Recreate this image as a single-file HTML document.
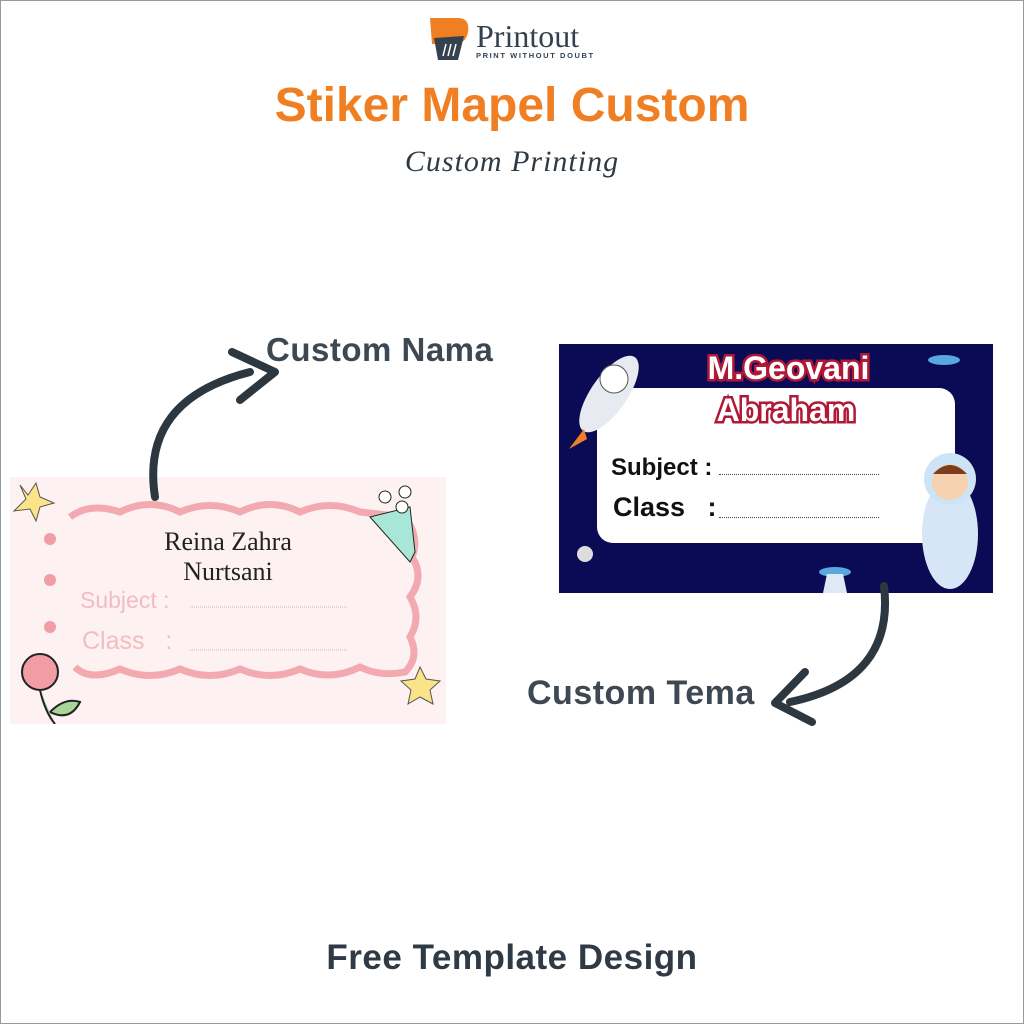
<!DOCTYPE html>
<html><head><meta charset="utf-8"><style>
body{margin:0;width:1024px;height:1024px;background:#fff;position:relative;overflow:hidden;font-family:"Liberation Sans",sans-serif}
.abs{position:absolute}
.ol{color:#fff;-webkit-text-stroke:5px #b01835;paint-order:stroke fill;font-weight:900}
</style></head><body>
<div class="abs" style="left:0;top:0;width:1022px;height:1022px;border:1px solid #9a9a9a"></div>
<!-- logo -->
<svg class="abs" style="left:424px;top:16px" width="48" height="48" viewBox="0 0 48 48">
<path d="M6 2 L34 2 Q46 2 44 16 Q42 28 30 28 L8 28 Z" fill="#f07f24"/>
<path d="M10 22 L40 20 L34 44 L14 44 Z" fill="#34424f"/>
<path d="M22 28 L19 40 M27 28 L24 40 M32 28 L29 40" stroke="#fff" stroke-width="1.5"/>
</svg>
<div class="abs" style="left:476px;top:18px;font-family:'Liberation Serif',serif;font-size:32px;color:#34424f;line-height:36px">Printout</div>
<div class="abs" style="left:476px;top:51px;font-size:7.5px;letter-spacing:1.6px;color:#34424f;font-weight:bold">PRINT WITHOUT DOUBT</div>
<div class="abs" style="left:0;width:1024px;top:78px;text-align:center;font-size:48px;font-weight:bold;color:#f07f24">Stiker Mapel Custom</div>
<div class="abs" style="left:0;width:1024px;top:145px;text-align:center;font-family:'Liberation Serif',serif;font-style:italic;font-size:30px;color:#2f3a44;letter-spacing:1px">Custom Printing</div>
<div class="abs" style="left:266px;top:331px;font-size:33px;font-weight:bold;color:#3d4852;letter-spacing:0.5px">Custom Nama</div>
<div class="abs" style="left:527px;top:674px;font-size:34px;font-weight:bold;color:#3d4852;letter-spacing:0.5px">Custom Tema</div>
<div class="abs" style="left:0;width:1024px;top:938px;text-align:center;font-size:35px;font-weight:bold;color:#2f3a44;letter-spacing:0.5px">Free Template Design</div>

<!-- left card -->
<div class="abs" style="left:10px;top:477px;width:436px;height:247px;background:#fdf2f1;overflow:hidden">
<svg width="436" height="247">
<path d="M60 40 Q80 25 110 35 Q140 20 170 35 Q200 22 230 35 Q260 20 290 35 Q320 22 350 35 L395 40 Q410 60 402 80 Q415 100 400 120 Q412 140 400 160 Q410 180 395 195 Q370 200 350 190 Q320 205 290 192 Q260 205 230 192 Q200 205 170 192 Q140 205 110 192 Q80 205 65 190" fill="none" stroke="#f2aab0" stroke-width="7"/>
<path d="M10 8 L16 22 L4 34 L20 32 L26 44 L30 30 L44 26 L30 20 L26 6 L18 18Z" fill="#fbe38a" stroke="#555" stroke-width="1"/>
<path d="M410 190 l6 12 14 2-10 9 3 14-13-7-12 7 3-14-10-9 14-2z" fill="#fbe38a" stroke="#555"/>
<circle cx="30" cy="195" r="18" fill="#f29ca6" stroke="#222" stroke-width="2"/>
<path d="M30 213 Q35 235 45 247 M40 235 Q55 220 70 225 Q60 245 40 235" fill="#a8d59a" stroke="#222" stroke-width="2"/>
<path d="M360 40 L400 30 L405 75 L400 85 Z" fill="#a8e6d8" stroke="#222"/>
<circle cx="375" cy="20" r="6" fill="#fff" stroke="#222"/><circle cx="395" cy="15" r="6" fill="#fff" stroke="#222"/><circle cx="392" cy="30" r="6" fill="#fff" stroke="#222"/>
<circle cx="40" cy="62" r="6" fill="#f29ca6"/><circle cx="40" cy="103" r="6" fill="#f29ca6"/><circle cx="40" cy="150" r="6" fill="#f29ca6"/>
<line x1="180" y1="130" x2="338" y2="130" stroke="#bbb" stroke-dasharray="1 1"/>
<line x1="180" y1="173" x2="338" y2="173" stroke="#bbb" stroke-dasharray="1 1"/>
</svg>
<div class="abs" style="left:0;width:436px;top:50px;text-align:center;font-family:'Liberation Serif',serif;font-size:26px;line-height:30px;color:#222">Reina Zahra<br>Nurtsani</div>
<div class="abs" style="left:70px;top:110px;font-size:23px;color:#f2bcc0">Subject :</div>
<div class="abs" style="left:72px;top:150px;font-size:25px;color:#f2bcc0">Class &nbsp;&nbsp;:</div>
</div>

<!-- right card -->
<div class="abs" style="left:559px;top:344px;width:434px;height:249px;background:#0b0b55;overflow:hidden">
<div class="abs" style="left:38px;top:44px;width:358px;height:155px;background:#fff;border-radius:16px"></div>
<div class="abs ol" style="left:0;width:434px;top:6px;text-align:center;font-size:32px;padding-left:25px;box-sizing:border-box">M.Geovani</div>
<div class="abs ol" style="left:0;width:434px;top:48px;text-align:center;font-size:32px;padding-left:20px;box-sizing:border-box">Abraham</div>
<div class="abs" style="left:52px;top:110px;font-size:24px;font-weight:bold;color:#111">Subject :</div>
<div class="abs" style="left:54px;top:148px;font-size:27px;font-weight:bold;color:#111">Class &nbsp;&nbsp;:</div>
<div class="abs" style="left:160px;top:130px;width:160px;border-top:1px dotted #444"></div>
<div class="abs" style="left:160px;top:173px;width:160px;border-top:1px dotted #444"></div>
<svg class="abs" style="left:0;top:0" width="434" height="249">
<ellipse cx="50" cy="50" rx="18" ry="45" transform="rotate(35 50 50)" fill="#e8eaf2"/>
<circle cx="55" cy="35" r="14" fill="#fff" stroke="#555"/>
<path d="M25 85 L10 105 L28 95Z" fill="#f07f24"/>
<ellipse cx="391" cy="190" rx="28" ry="55" fill="#d6e6f6"/>
<circle cx="391" cy="135" r="26" fill="#cde4f7"/>
<circle cx="391" cy="138" r="18" fill="#f6d2b0"/>
<path d="M374 130 Q391 112 408 130 Z" fill="#7a3e1e"/>
<ellipse cx="385" cy="16" rx="16" ry="5" fill="#5aa7e0"/>
<ellipse cx="276" cy="228" rx="16" ry="5" fill="#5aa7e0"/><path d="M268 230 L284 230 L288 249 L264 249Z" fill="#dfe9f5"/>
<circle cx="26" cy="210" r="8" fill="#ddd"/>
</svg>
</div>

<!-- arrows -->
<svg class="abs" style="left:0;top:0" width="1024" height="1024">
<path d="M155 497 Q140 400 250 372" fill="none" stroke="#2d3740" stroke-width="8" stroke-linecap="round"/>
<path d="M232 352 L275 372 L240 400" fill="none" stroke="#2d3740" stroke-width="8" stroke-linecap="round" stroke-linejoin="round"/>
<path d="M884 586 Q895 680 790 702" fill="none" stroke="#2d3740" stroke-width="8" stroke-linecap="round"/>
<path d="M805 672 L775 703 L812 722" fill="none" stroke="#2d3740" stroke-width="8" stroke-linecap="round" stroke-linejoin="round"/>
</svg>
</body></html>
